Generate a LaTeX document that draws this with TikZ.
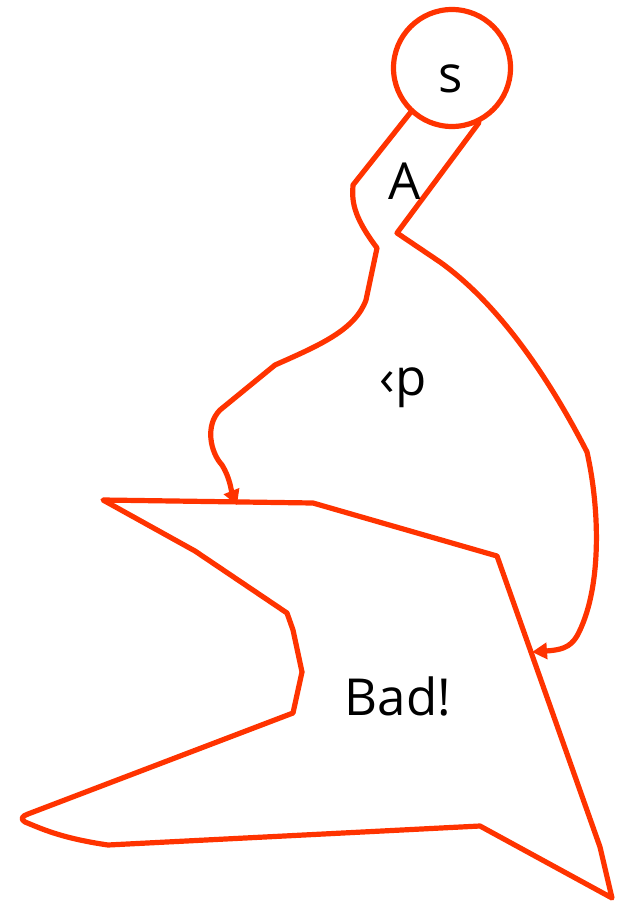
\documentclass[tikz,border=0pt]{standalone}
\usepackage{fontspec}
\setmainfont{Open Sans}
\usetikzlibrary{arrows.meta}
\definecolor{redline}{RGB}{255,51,0}
\tikzset{
  edge/.style={draw=redline, line width=5.2pt, line join=round, line cap=round},
  arr/.style={edge, -{Triangle[length=15pt,width=16pt]}},
  lbl/.style={inner sep=0pt, font=\fontsize{51}{51}\selectfont, text=black}
}
\begin{document}
\begin{tikzpicture}[x=1pt,y=-1pt]
\useasboundingbox (0,0) rectangle (623,902);
% source circle
\node[draw=redline, line width=5.2pt, circle, minimum size=117pt, inner sep=0pt] (s) at (452,68) {};
\node[lbl] (slabel) at (451,79) {s};
% free ends of the two paths
\coordinate (e1) at (237,505);
\coordinate (e2) at (532,652);
% left path
\draw[arr] (s.227) -- (353,185) .. controls (352,200) and (352,215) .. (377,248)
  -- (366,300) .. controls (355,330) and (320,345) .. (275,365)
  -- (220,410) .. controls (205,425) and (210,452) .. (222,465)
  .. controls (230,478) and (231,490) .. (e1);
% right path
\draw[arr] (s.296) -- (397,233) -- (440,262) .. controls (500,305) and (550,380) .. (587,452)
  .. controls (600,510) and (602,590) .. (577,636)
  .. controls (570,648) and (560,650) .. (e2);
% Bad region
\draw[edge] (103,500) -- (313,503) -- (497,556) -- (600,847) -- (612,898) -- (480,826)
  -- (108,845) .. controls (60,838) and (40,828) .. (25,822) .. controls (20,819) and (22,816) .. (28,814)
  -- (293,713) -- (302,672) -- (293,630) -- (287,613) -- (195,551) -- cycle;
% labels
\node[lbl] (alabel) at (405,181) {A};
\node[lbl, anchor=base] (plabel) at (403,395) {‹p};
\node[lbl, anchor=base] (badlabel) at (398,715) {Bad!};
\end{tikzpicture}
\end{document}
